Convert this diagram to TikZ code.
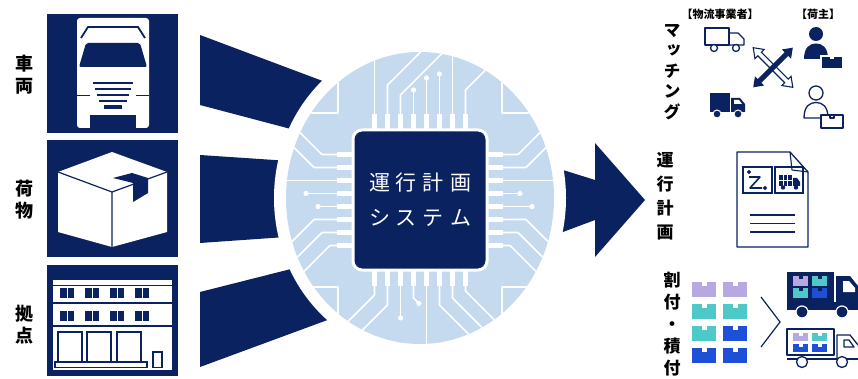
\documentclass[tikz,border=0pt]{standalone}
\usepackage{fontspec}
\newfontfamily\jpfont{Noto Sans CJK JP}
\newfontfamily\jpvert{Noto Sans CJK JP}[RawFeature=+vert]
\usetikzlibrary{arrows.meta}
\definecolor{navy}{HTML}{0B2261}
\definecolor{discblue}{HTML}{C5DAEF}
\definecolor{boxlav}{HTML}{B8A8E2}
\definecolor{boxteal}{HTML}{4FC8C8}
\definecolor{boxblue}{HTML}{1E4FD8}
\tikzset{
  trace/.style={white, line width=1.6pt, line cap=round, line join=round},
  dot/.style={fill=white},
  vlabel/.style={font=\jpfont\bfseries\fontsize{18}{22}\selectfont, align=center, inner sep=0pt, text=black},
  rlabel/.style={font=\jpfont\bfseries\fontsize{17}{21}\selectfont, align=center, inner sep=0pt, text=black},
  smalllabel/.style={font=\jpfont\bfseries\fontsize{11}{13}\selectfont, inner sep=0pt, text=black},
  iconline/.style={navy, line width=1.3pt, line join=round},
  panel/.style={fill=navy},
}
\begin{document}
\begin{tikzpicture}[x=1pt,y=-1pt]
\useasboundingbox[fill=white] (0,0) rectangle (858,379);

% ---------- input panels ----------
\fill[panel] (47,14) rectangle (178,133);
\fill[panel] (47,140) rectangle (178,257);
\fill[panel] (47,265) rectangle (178,376);

\node[vlabel] (lblveh) at (25,75) {車\\両};
\node[vlabel] (lblcargo) at (25,200) {荷\\物};
\node[vlabel] (lblbase) at (25,325) {拠\\点};

% truck seen from the front
\fill[white, rounded corners=3pt] (77,18) rectangle (149,128);
\draw[navy, line width=1.8pt] (81,38) -- (88,27) -- (138,27) -- (145,38);
\fill[navy, rounded corners=2pt] (86,43) -- (140,43) -- (147,67) -- (79,67) -- cycle;
\foreach \gy/\ga/\gb in {83/93/133, 89/95/131, 95/97/129, 101/99/127}
  \fill[navy] (\ga,\gy-1.4) rectangle (\gb,\gy+1.4);
\fill[navy] (104,105.5) rectangle (122,109);
\draw[navy, line width=1pt] (77,96) -- (90,96) (136,96) -- (149,96);
\fill[navy] (90,115) rectangle (136,133);

% parcel box
\fill[white] (112,152) -- (167,172) -- (167,232) -- (112,247) -- (58,232) -- (58,172) -- cycle;
\draw[navy, line width=1.2pt, line join=round] (58,172) -- (112,192) -- (167,172) (112,192) -- (112,247);
\fill[navy] (113,178) -- (132,173) -- (148,178) -- (148,193) -- (133,202) -- (133,183) -- cycle;

% building
\fill[white] (53,280) rectangle (172,370);
\draw[navy, line width=1pt] (53,285) -- (172,285);
\foreach \wx in {60,85,110,135}
  \foreach \wy in {288,311} {
    \fill[navy] (\wx,\wy) rectangle ++(6.5,10);
    \fill[navy] (\wx+7.5,\wy) rectangle ++(6.5,10);
  }
\draw[navy, line width=1.2pt] (53,303) -- (172,303) (53,326) -- (172,326);
\foreach \dx in {58,87,117}
  \draw[navy, line width=1.2pt] (\dx,362) -- (\dx,332) -- (\dx+24,332) -- (\dx+24,362);
\draw[navy, line width=1.1pt] (55,362) rectangle (147,367.5);
\draw[navy, line width=1.1pt] (153,352) rectangle (162,367.5);

% ---------- wedges and output arrow ----------
\fill[navy] (200,35) -- (340,87.5) -- (340,142) -- (200,105) -- cycle;
\fill[navy] (200,155) -- (300,161.7) -- (300,236) -- (200,243) -- cycle;
\fill[navy] (200,292) -- (340,256.6) -- (340,315.4) -- (200,367) -- cycle;
\fill[navy] (540,162.8) -- (595,180) -- (595,143) -- (645,200) -- (595,257) -- (595,220) -- (540,240.6) -- cycle;
\fill[white] (420,198) ellipse [x radius=146pt, y radius=158pt];

% ---------- circuit disc ----------
\fill[discblue] (420,198) ellipse [x radius=134pt, y radius=146pt];
\begin{scope}
  \clip (420,198) ellipse [x radius=134pt, y radius=146pt];
  % corner brackets
  \draw[trace] (338,78) -- (338,113) -- (270,113);
  \draw[trace] (502,78) -- (502,113) -- (570,113);
  \draw[trace] (338,318) -- (338,287) -- (270,287);
  \draw[trace] (502,318) -- (502,287) -- (570,287);
  % top traces
  \draw[trace] (374.5,115) -- (374.5,40);
  \draw[trace] (387.5,115) -- (387.5,85) -- (430,42.5);
  \draw[trace] (400.5,115) -- (400.5,95) -- (450,45.5);
  \draw[trace] (413.5,115) -- (413.5,90);
  \draw[trace] (426.5,115) -- (426.5,78);
  \draw[trace] (439.5,115) -- (439.5,74);
  \draw[trace] (452.5,115) -- (452.5,40);
  \draw[trace] (465.5,115) -- (465.5,90) -- (500,55.5);
  \fill[dot] (413.5,90) circle (2.6pt);
  \fill[dot] (426.5,78) circle (2.6pt);
  \fill[dot] (439.5,74) circle (2.6pt);
  % bottom traces
  \draw[trace] (374.5,285) -- (374.5,295) -- (330,339.5);
  \draw[trace] (387.5,285) -- (387.5,305) -- (350,342.5);
  \draw[trace] (400.5,285) -- (400.5,318);
  \draw[trace] (413.5,285) -- (413.5,298) -- (419,303.5);
  \draw[trace] (426.5,285) -- (426.5,360);
  \draw[trace] (439.5,285) -- (439.5,305) -- (480,345.5);
  \draw[trace] (452.5,285) -- (452.5,298) -- (500,345.5);
  \draw[trace] (465.5,285) -- (465.5,291) -- (520,345.5);
  \fill[dot] (400.5,318) circle (2.6pt);
  \fill[dot] (419,303.5) circle (2.6pt);
  % left traces
  \draw[trace] (338,154.5) -- (322,154.5) -- (280,112.5);
  \draw[trace] (338,167.5) -- (314,167.5) -- (280,133.5);
  \draw[trace] (338,180.5) -- (280,180.5);
  \draw[trace] (338,193.5) -- (306,193.5);
  \draw[trace] (338,206.5) -- (318,206.5);
  \draw[trace] (338,219.5) -- (314,219.5) -- (280,253.5);
  \draw[trace] (338,232.5) -- (322,232.5) -- (280,274.5);
  \draw[trace] (338,245.5) -- (330,245.5) -- (290,285.5);
  \fill[dot] (306,193.5) circle (2.6pt);
  \fill[dot] (318,206.5) circle (2.6pt);
  % right traces
  \draw[trace] (502,154.5) -- (518,154.5) -- (560,112.5);
  \draw[trace] (502,167.5) -- (526,167.5) -- (560,133.5);
  \draw[trace] (502,180.5) -- (560,180.5);
  \draw[trace] (502,193.5) -- (520,193.5);
  \draw[trace] (502,206.5) -- (532,206.5);
  \draw[trace] (502,219.5) -- (526,219.5) -- (560,253.5);
  \draw[trace] (502,232.5) -- (518,232.5) -- (560,274.5);
  \draw[trace] (502,245.5) -- (510,245.5) -- (560,295.5);
  \fill[dot] (520,193.5) circle (2.6pt);
  \fill[dot] (532,206.5) circle (2.6pt);
\end{scope}

% chip pins
\foreach \k in {0,...,7} {
  \fill[white] (372+13*\k,114) rectangle (377+13*\k,131);
  \fill[white] (372+13*\k,269) rectangle (377+13*\k,286);
  \fill[white] (337,152+13*\k) rectangle (354,157+13*\k);
  \fill[white] (486,152+13*\k) rectangle (503,157+13*\k);
}
% chip body
\filldraw[fill=navy, draw=white, line width=3pt, rounded corners=9pt] (353,130) rectangle (487,270);
\node[font=\jpfont\fontsize{21}{35}\selectfont, text=white, align=center, inner sep=0pt] (chiptext) at (420,200)
  {運\hspace{6pt}行\hspace{6pt}計\hspace{6pt}画\\シ\hspace{6pt}ス\hspace{6pt}テ\hspace{6pt}ム};

% ---------- matching ----------
\node[rlabel, font=\jpvert\bfseries\fontsize{17}{20.5}\selectfont] (lblmatch) at (672,72) {マ\\ッ\\チ\\ン\\グ};
\node[smalllabel] (lblcarrier) at (720,14) {【物流事業者】};
\node[smalllabel] (lblshipper) at (818,14) {【荷主】};

% outlined truck
\draw[iconline] (705,28) rectangle (729,45);
\draw[iconline] (729,45) -- (729,33) -- (738,33) -- (744,39) -- (744,45) -- cycle;
\filldraw[iconline, fill=white] (714,48) circle (3.5pt) (736,48) circle (3.5pt);
% filled truck
\fill[navy] (710,93) rectangle (730,112);
\fill[navy] (731,112) -- (731,98) -- (740,98) -- (745,104) -- (745,112) -- cycle;
\fill[white] (734,100) -- (739,100) -- (742,104) -- (734,104) -- cycle;
\filldraw[fill=navy, draw=white, line width=1pt] (717,114) circle (4pt) (738,114) circle (4pt);

% crossed double arrows: hollow one falling to the right, solid one rising in front
\begin{scope}[shift={(773,67.5)}, rotate=-45]
  \filldraw[fill=white, draw=navy, line width=1.1pt, line join=miter] (-28,0) -- (-19,-6.5) -- (-19,-2.5) -- (19,-2.5) -- (19,-6.5) -- (28,0) -- (19,6.5) -- (19,2.5) -- (-19,2.5) -- (-19,6.5) -- cycle;
\end{scope}
\begin{scope}[shift={(773,67.5)}, rotate=45]
  \fill[navy] (-28,0) -- (-19,-6.5) -- (-19,-2.5) -- (19,-2.5) -- (19,-6.5) -- (28,0) -- (19,6.5) -- (19,2.5) -- (-19,2.5) -- (-19,6.5) -- cycle;
\end{scope}

% shippers
\fill[navy] (816,34) circle (7pt);
\fill[navy] (804,59) .. controls (804,47) and (810,43.5) .. (816,43.5) .. controls (822,43.5) and (828,47) .. (828,59) -- cycle;
\filldraw[fill=navy, draw=white, line width=1.2pt] (821,56) rectangle (843,69);
\fill[white] (830,56) rectangle (834,59);
\draw[iconline] (816,93) circle (7pt);
\draw[iconline] (804,118) .. controls (804,106) and (810,102.5) .. (816,102.5) .. controls (822,102.5) and (828,106) .. (828,118) -- cycle;
\filldraw[iconline, fill=white] (821,115) rectangle (843,128);
\draw[iconline] (830,115) -- (830,118) -- (834,118) -- (834,115);

% ---------- operation plan ----------
\node[rlabel, font=\jpfont\bfseries\fontsize{17}{24}\selectfont] (lblplan) at (665,196) {運\\行\\計\\画};
\filldraw[fill=white, draw=navy, line width=1.3pt, line join=round] (737,152) -- (790,152) -- (808,172) -- (808,247) -- (737,247) -- cycle;
\draw[navy, line width=1.1pt, line join=round] (790,152) -- (792,170) -- (808,172);
\draw[navy, line width=1.3pt] (743,167) rectangle (772,193);
\draw[navy, line width=1.3pt] (775,167) rectangle (803,193);
\draw[navy, line width=1.6pt, line join=round] (749,177) -- (760,177) -- (750,188) -- (762,188);
\filldraw[navy] (749,172) circle (1.8pt) (765,188) circle (1.8pt);
\fill[navy] (779,175) rectangle (792,186);
\draw[white, line width=0.6pt] (783.3,175) -- (783.3,186) (787.6,175) -- (787.6,186) (779,180.5) -- (792,180.5);
\fill[navy] (793,186) -- (793,178) -- (797,178) -- (800,182) -- (800,186) -- cycle;
\fill[navy] (783,187.5) circle (2.2pt) (796,187.5) circle (2.2pt);
\draw[navy, line width=1.5pt] (750,215) -- (795,215) (750,223.5) -- (795,223.5) (750,232) -- (795,232);

% ---------- allocation and loading ----------
\node[rlabel, font=\jpfont\bfseries\fontsize{17}{22}\selectfont] (lblload) at (672,324) {割\\付\\・\\積\\付};
\foreach \bx/\by/\bc in {692/282/boxlav, 723/282/boxlav, 692/304/boxteal, 723/304/boxteal,
                         692/326/boxteal, 723/326/boxblue, 692/348/boxblue, 723/348/boxblue} {
  \fill[\bc] (\bx,\by) rectangle ++(24,15);
  \fill[white] (\bx+9.5,\by) rectangle ++(5,3.5);
}
\draw[navy, line width=1.2pt, line join=miter] (761,297) -- (780,322) -- (761,347);

% loaded truck
\fill[navy] (787,272) rectangle (834,306);
\fill[boxlav] (793,276) rectangle (808,286);
\fill[boxteal] (812,276) rectangle (827,286);
\fill[boxteal] (793,288) rectangle (808,298);
\fill[boxblue] (812,288) rectangle (827,298);
\foreach \tx/\ty in {793/276, 812/276, 793/288, 812/288}
  \fill[navy] (\tx+5.5,\ty) rectangle ++(4,2.5);
\fill[navy] (836,306) -- (836,276) -- (850,276) -- (858,286) -- (858,306) -- cycle;
\fill[white] (843,281) -- (849,281) -- (855,288) -- (855,292) -- (843,292) -- cycle;
\fill[navy] (787,302) rectangle (858,310);
\filldraw[fill=navy, draw=white, line width=1.2pt] (802,312) circle (6pt) (842,312) circle (6pt);

% partly loaded truck
\draw[iconline] (787,329) rectangle (834,355);
\fill[boxlav] (793,333) rectangle (808,341);
\fill[boxteal] (812,333) rectangle (827,341);
\fill[boxblue] (793,344) rectangle (808,352);
\fill[boxblue] (812,344) rectangle (827,352);
\foreach \tx/\ty in {793/333, 812/333, 793/344, 812/344}
  \fill[white] (\tx+5.5,\ty) rectangle ++(4,2.5);
\draw[iconline] (837,358) -- (837,335) -- (850,335) -- (858,345);
\draw[iconline] (844,340) -- (849,340) -- (854,347) -- (844,347) -- cycle;
\draw[iconline] (787,359) -- (858,359);
\filldraw[iconline, fill=white] (802,362) circle (5.5pt) (842,362) circle (5.5pt);
\end{tikzpicture}
\end{document}
